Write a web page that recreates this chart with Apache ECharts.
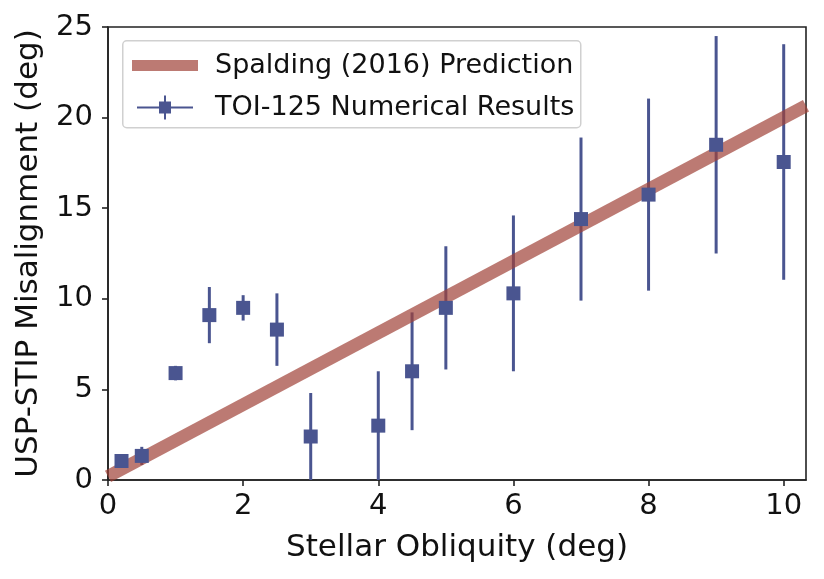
<!DOCTYPE html>
<html><head><meta charset="utf-8">
<script src="https://cdn.jsdelivr.net/npm/echarts@6/dist/echarts.min.js"></script>
<style>html,body{margin:0;padding:0;background:#fff}#c{width:824px;height:579px}</style>
</head><body><div id="c"></div>
<script>
// Data
const obliquity = [0.2, 0.5, 1, 1.5, 2, 2.5, 3, 4, 4.5, 5, 6, 7, 8, 9, 10];
const misalignment = [1.05, 1.33, 5.9, 9.1, 9.5, 8.3, 2.4, 3.0, 6.0, 9.5, 10.3, 14.4, 15.75, 18.5, 17.55];
const errors = [0.0, 0.5, 0.4, 1.55, 0.7, 2.0, 2.4, 3.0, 3.25, 3.4, 4.3, 4.5, 5.3, 6.0, 6.5];
const predictionX = [0, 10.33];
const predictionY = [0.2, 20.65];
const xTicks = [0, 2, 4, 6, 8, 10];
const yTicks = [0, 5, 10, 15, 20, 25];

const blue = '#4a5590';
const font = 'DejaVu Sans';
const chart = echarts.init(document.getElementById('c'));
const pts = obliquity.map((x, i) => [x, misalignment[i], errors[i]]);
const line = predictionX.map((x, i) => [x, predictionY[i]]);

chart.setOption({
  animation: false,
  grid: {left: 108, right: 18, top: 27, bottom: 99, show: true, borderColor: '#222', borderWidth: 1.6},
  xAxis: {
    type: 'value', min: 0, max: 10.33,
    name: 'Stellar Obliquity (deg)', nameLocation: 'middle', nameGap: 52,
    nameTextStyle: {fontFamily: font, fontSize: 31, color: '#111'},
    axisLine: {show: true, onZero: false, lineStyle: {color: '#222', width: 1.6}},
    axisTick: {show: true, length: 6, lineStyle: {color: '#222', width: 1.6}, customValues: xTicks},
    axisLabel: {fontFamily: font, fontSize: 29, color: '#111', margin: 12, customValues: xTicks},
    splitLine: {show: false}
  },
  yAxis: {
    type: 'value', min: 0, max: 25, interval: 5,
    name: 'USP-STIP Misalignment (deg)', nameLocation: 'middle', nameGap: 64,
    nameTextStyle: {fontFamily: font, fontSize: 31, color: '#111'},
    axisLine: {show: true, lineStyle: {color: '#222', width: 1.6}},
    axisTick: {show: true, length: 6, lineStyle: {color: '#222', width: 1.6}, customValues: yTicks},
    axisLabel: {fontFamily: font, fontSize: 29, color: '#111', margin: 15, customValues: yTicks},
    splitLine: {show: false}
  },
  legend: [{
    left: 127, top: 47, itemWidth: 66, itemHeight: 11, itemGap: 0,
    data: [{name: 'Spalding (2016) Prediction', icon: 'rect', itemStyle: {color: '#bc7a73', opacity: 1}}],
    textStyle: {fontFamily: font, fontSize: 27, color: '#111', padding: [0, 0, 0, 12]},
    selectedMode: false
  }, {
    left: 132, top: 89, itemWidth: 56, itemHeight: 24, itemGap: 0,
    data: [{name: 'TOI-125 Numerical Results', icon: 'path://M0,11H56V13H0Z M22,6H34V18H22Z M27,0H29V24H27Z', itemStyle: {color: blue}}],
    textStyle: {fontFamily: font, fontSize: 27, color: '#111', padding: [0, 0, 0, 17]},
    selectedMode: false
  }],
  graphic: [{
    type: 'rect', left: 122, top: 40, z: 0,
    shape: {width: 458, height: 87, r: 4},
    style: {fill: 'rgba(255,255,255,0.85)', stroke: '#d0d0d0', lineWidth: 1.5}
  }],
  series: [{
    type: 'custom', name: 'errbar', z: 2,
    renderItem: function (params, api) {
      const x = api.value(0), y = api.value(1), e = api.value(2);
      const p1 = api.coord([x, y - e]);
      const p2 = api.coord([x, y + e]);
      return {type: 'line', shape: {x1: p1[0], y1: p1[1], x2: p2[0], y2: p2[1]},
        style: {stroke: blue, lineWidth: 3}};
    },
    clip: true,
    data: pts, encode: {x: 0, y: 1}
  }, {
    type: 'line', name: 'Spalding (2016) Prediction', z: 3,
    data: line, symbol: 'none',
    lineStyle: {color: 'rgba(160,66,56,0.7)', width: 13},
    itemStyle: {color: '#bc7a73'}
  }, {
    type: 'scatter', name: 'TOI-125 Numerical Results', z: 4,
    data: pts, symbol: 'rect', symbolSize: 14,
    itemStyle: {color: blue, opacity: 1}
  }]
});
</script></body></html>
